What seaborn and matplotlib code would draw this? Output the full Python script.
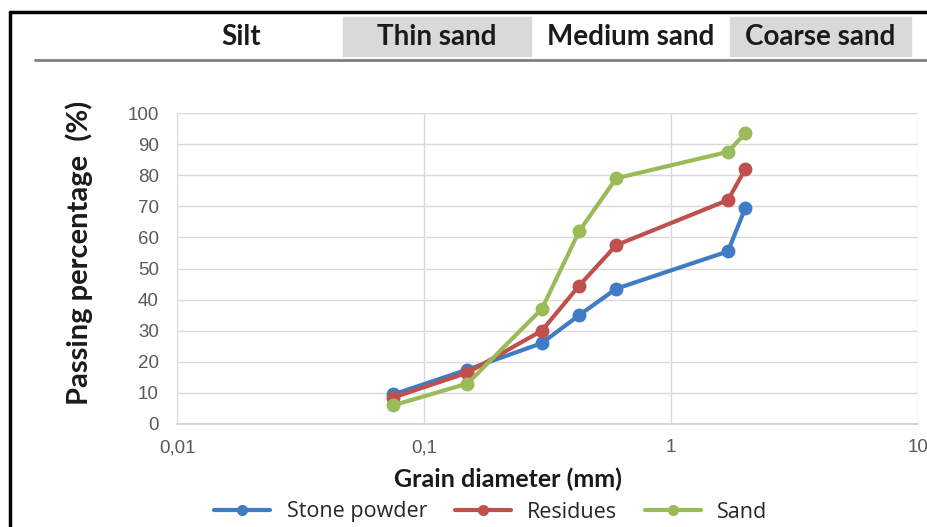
import numpy as np
import pandas as pd
import matplotlib
matplotlib.use("Agg")
import matplotlib.pyplot as plt
from matplotlib.patches import Rectangle
from matplotlib.lines import Line2D
import seaborn as sns

# sieve sizes (mm) and passing percentages
diameter = [0.075, 0.15, 0.3, 0.425, 0.6, 1.7, 2.0]
stone_powder = [9.5, 17.5, 26, 35, 43.5, 55.5, 69.5]
residues = [8.5, 16.5, 30, 44.5, 57.5, 72, 82]
sand = [6, 13, 37, 62, 79, 87.5, 93.5]

series_names = ["Stone powder", "Residues", "Sand"]
series_colors = ["#3f7cc4", "#c0504d", "#9bbb59"]

x_ticks = [0.01, 0.1, 1, 10]
x_tick_labels = ["0,01", "0,1", "1", "10"]
y_ticks = list(range(0, 101, 10))

classes = ["Silt", "Thin sand", "Medium sand", "Coarse sand"]
class_shaded = [False, True, False, True]

W, H = 928, 527

df = pd.DataFrame({
    "diameter": diameter * 3,
    "passing": stone_powder + residues + sand,
    "material": [n for n in series_names for _ in diameter],
})

sns.set_theme(style="white")
plt.rcParams["font.family"] = ["Liberation Sans", "DejaVu Sans"]

fig = plt.figure(figsize=(W / 100, H / 100), dpi=100)
ax = fig.add_axes([177 / W, 1 - 424 / H, (918 - 177) / W, (424 - 113) / H])

sns.lineplot(data=df, x="diameter", y="passing", hue="material",
             hue_order=series_names, palette=series_colors, marker="o",
             markersize=10, markeredgewidth=0, linewidth=3, sort=False,
             legend=False, ax=ax)

ax.set_xscale("log")
ax.set_xlim(0.01, 10)
ax.set_ylim(0, 100)
ax.set_xticks(x_ticks)
ax.set_xticklabels(x_tick_labels)
ax.set_yticks(y_ticks)
ax.minorticks_off()
ax.tick_params(axis="both", length=0, labelsize=13.5, labelcolor="#595959")
ax.tick_params(axis="x", pad=11)
ax.tick_params(axis="y", pad=13)
ax.grid(True, color="#d9d9d9", linewidth=1)
ax.set_axisbelow(True)
for s in ["top", "right", "left"]:
    ax.spines[s].set_visible(False)
ax.spines["bottom"].set_color("#d0d0d0")
ax.set_xlabel("")
ax.set_ylabel("")

bold = dict(family=["Lato", "DejaVu Sans"], fontweight="bold", color="#1a1a1a")
fig.text(508 / W, 1 - 479 / H, "Grain diameter (mm)", ha="center",
         va="center", fontsize=18, **bold)
fig.text(79 / W, 1 - 253 / H, "Passing percentage  (%)", ha="center",
         va="center", rotation=90, fontsize=21, **bold)

# legend below the axis
handles = [Line2D([], [], color=c, linewidth=3, marker="o", markersize=8,
                  markeredgewidth=0) for c in series_colors]
fig.legend(handles, series_names, loc="center", ncol=3, frameon=False,
           bbox_to_anchor=(491 / W, 1 - 512 / H), borderaxespad=0,
           borderpad=0.1, handlelength=2.6, columnspacing=1.3,
           handletextpad=0.75,
           prop={"family": ["Open Sans", "DejaVu Sans"], "size": 15.5})

# grain-size class header
box_x = [(193, 290), (343, 531), (531, 730), (730, 911)]
for name, shaded, (x0, x1) in zip(classes, class_shaded, box_x):
    if shaded:
        fig.patches.append(Rectangle((x0 / W, 1 - 56 / H), (x1 - x0) / W, 39 / H,
                                     transform=fig.transFigure, color="#d9d9d9",
                                     zorder=0))
    fig.text((x0 + x1) / 2 / W, 1 - 37 / H, name, ha="center", va="center",
             fontsize=20, **bold)
fig.add_artist(Line2D([35 / W, 1], [1 - 60 / H] * 2, color="#7f7f7f",
                      linewidth=2, transform=fig.transFigure))

# black frame
fig.add_artist(Line2D([10 / W, 1], [1 - 12 / H] * 2, color="black",
                      linewidth=2.5, transform=fig.transFigure))
fig.add_artist(Line2D([10 / W] * 2, [0, 1 - 12 / H], color="black",
                      linewidth=2.5, transform=fig.transFigure))

fig.savefig("out.png", dpi=100)
